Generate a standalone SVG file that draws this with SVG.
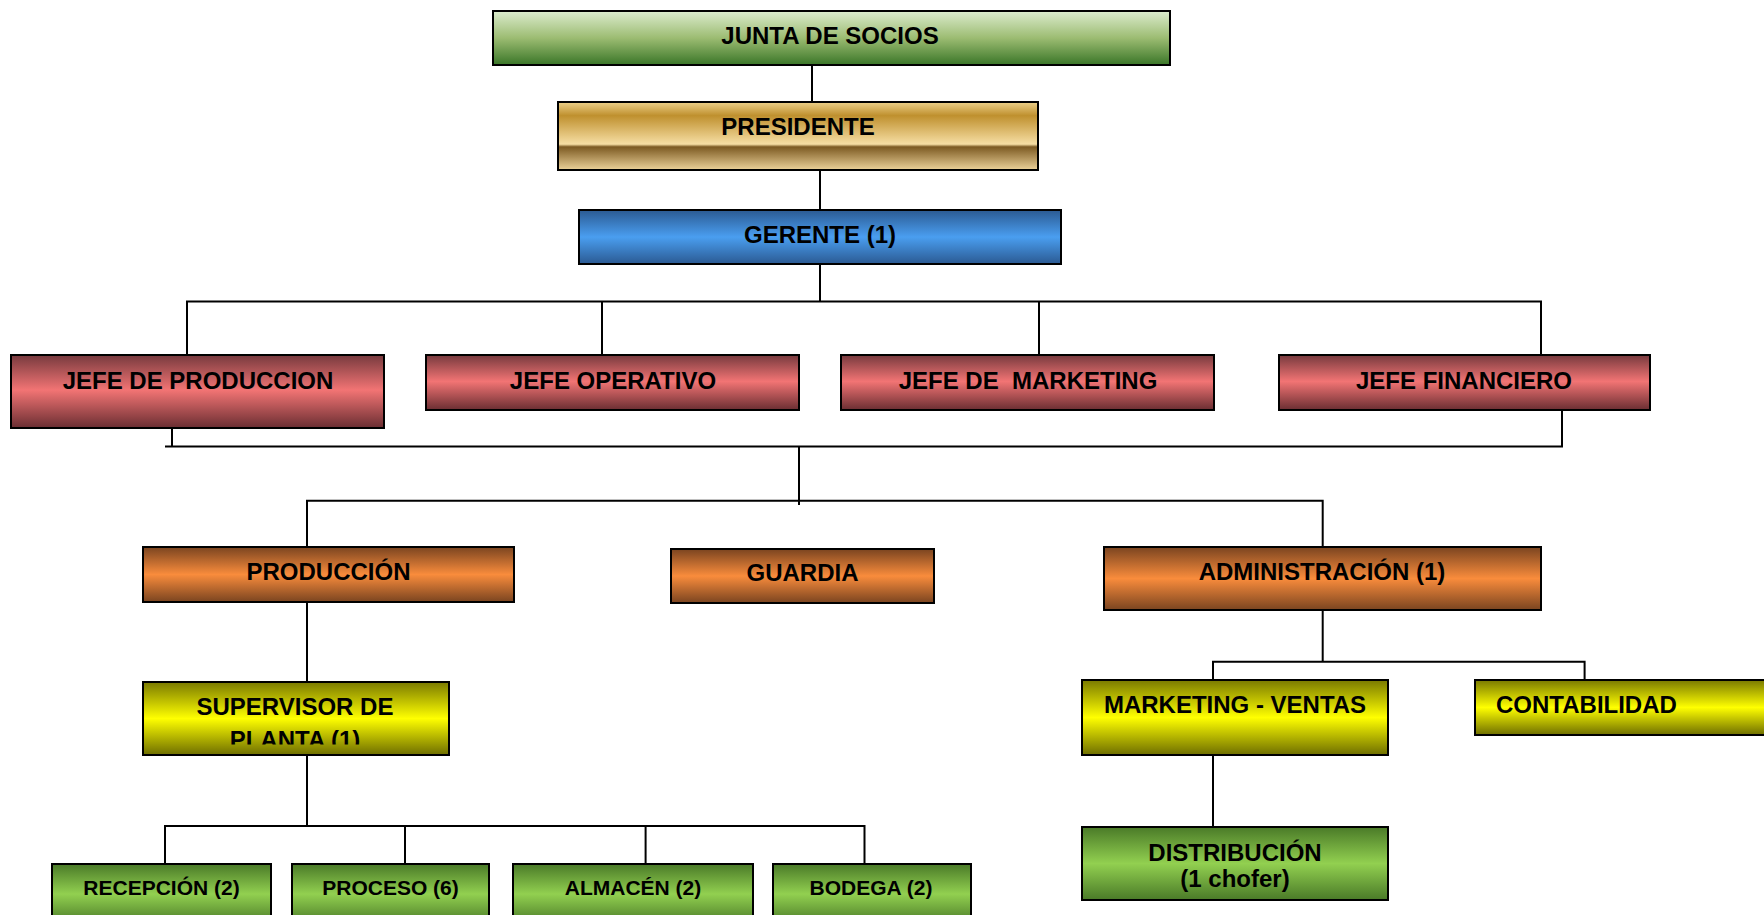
<svg xmlns="http://www.w3.org/2000/svg" width="1764" height="915" viewBox="0 0 1764 915">
<style>
.box{stroke:#000;stroke-width:2}
.t{font-family:"Liberation Sans",Arial,sans-serif;font-weight:bold;font-size:24px;fill:#000;text-anchor:middle}
.s{font-size:21px}
.c{fill:none;stroke:#000;stroke-width:2}
</style>
<defs>
<linearGradient id="gJunta" x1="0" y1="0" x2="0" y2="1">
<stop offset="0" stop-color="#dcecce"/><stop offset="0.5" stop-color="#9cbc72"/><stop offset="1" stop-color="#3a7628"/>
</linearGradient>
<linearGradient id="gPres" x1="0" y1="0" x2="0" y2="1">
<stop offset="0" stop-color="#ecd08a"/><stop offset="0.2" stop-color="#bf902e"/><stop offset="0.62" stop-color="#f6dea4"/><stop offset="0.66" stop-color="#7c5a22"/><stop offset="1" stop-color="#ecd29a"/>
</linearGradient>
<linearGradient id="gBlue" x1="0" y1="0" x2="0" y2="1">
<stop offset="0" stop-color="#2b5a92"/><stop offset="0.5" stop-color="#4a9ef0"/><stop offset="1" stop-color="#2b5a92"/>
</linearGradient>
<linearGradient id="gRed" x1="0" y1="0" x2="0" y2="1">
<stop offset="0" stop-color="#773a3e"/><stop offset="0.48" stop-color="#f27474"/><stop offset="1" stop-color="#6a2e32"/>
</linearGradient>
<linearGradient id="gOrange" x1="0" y1="0" x2="0" y2="1">
<stop offset="0" stop-color="#7a4420"/><stop offset="0.5" stop-color="#f98c3c"/><stop offset="1" stop-color="#7a4420"/>
</linearGradient>
<linearGradient id="gYellow" x1="0" y1="0" x2="0" y2="1">
<stop offset="0" stop-color="#7a7a00"/><stop offset="0.5" stop-color="#ffff00"/><stop offset="1" stop-color="#6e6e00"/>
</linearGradient>
<linearGradient id="gGreen" x1="0" y1="0" x2="0" y2="1">
<stop offset="0" stop-color="#4a7a28"/><stop offset="0.5" stop-color="#92d050"/><stop offset="1" stop-color="#4a7a28"/>
</linearGradient>
<clipPath id="clipSup"><rect x="143" y="682" width="306" height="62.5"/></clipPath>
</defs>
<rect width="1764" height="915" fill="#fff"/>

<g id="connectors">
<path class="c" d="M812 65 V102"/>
<path class="c" d="M820 170 V210"/>
<path class="c" d="M820 264 V301.5"/>
<path class="c" d="M187 355 V301.5 H1541 V355"/>
<path class="c" d="M602 301.5 V355"/>
<path class="c" d="M1039 301.5 V355"/>
<path class="c" d="M172 428 V446.5"/>
<path class="c" d="M165 446.5 H1562 V410"/>
<path class="c" d="M799 446.5 V505"/>
<path class="c" d="M307 547 V500.7 H1322.7 V547"/>
<path class="c" d="M307 602 V682"/>
<path class="c" d="M307 755 V826"/>
<path class="c" d="M165 863 V826 H864.5 V863"/>
<path class="c" d="M405 826 V863"/>
<path class="c" d="M645.6 826 V863"/>
<path class="c" d="M1322.7 610 V662"/>
<path class="c" d="M1213 680 V661.7 H1584.6 V680"/>
<path class="c" d="M1213 755 V827"/>
</g>

<g id="junta"><rect class="box" x="493" y="11" width="677" height="54" fill="url(#gJunta)"/><text class="t" x="830" y="44">JUNTA DE SOCIOS</text></g>
<g id="presidente"><rect class="box" x="558" y="102" width="480" height="68" fill="url(#gPres)"/><text class="t" x="798" y="135">PRESIDENTE</text></g>
<g id="gerente"><rect class="box" x="579" y="210" width="482" height="54" fill="url(#gBlue)"/><text class="t" x="820" y="243">GERENTE (1)</text></g>

<g id="jefe-produccion"><rect class="box" x="11" y="355" width="373" height="73" fill="url(#gRed)"/><text class="t" x="198" y="389">JEFE DE PRODUCCION</text></g>
<g id="jefe-operativo"><rect class="box" x="426" y="355" width="373" height="55" fill="url(#gRed)"/><text class="t" x="613" y="389">JEFE OPERATIVO</text></g>
<g id="jefe-marketing"><rect class="box" x="841" y="355" width="373" height="55" fill="url(#gRed)"/><text class="t" x="1028" y="389" xml:space="preserve">JEFE DE  MARKETING</text></g>
<g id="jefe-financiero"><rect class="box" x="1279" y="355" width="371" height="55" fill="url(#gRed)"/><text class="t" x="1464" y="389">JEFE FINANCIERO</text></g>

<g id="produccion"><rect class="box" x="143" y="547" width="371" height="55" fill="url(#gOrange)"/><text class="t" x="328.5" y="580">PRODUCCIÓN</text></g>
<g id="guardia"><rect class="box" x="671" y="549" width="263" height="54" fill="url(#gOrange)"/><text class="t" x="802.5" y="581">GUARDIA</text></g>
<g id="administracion"><rect class="box" x="1104" y="547" width="437" height="63" fill="url(#gOrange)"/><text class="t" x="1322" y="580">ADMINISTRACIÓN (1)</text></g>

<g id="supervisor"><rect class="box" x="143" y="682" width="306" height="73" fill="url(#gYellow)"/><g clip-path="url(#clipSup)"><text class="t" x="295" y="715">SUPERVISOR DE</text><text class="t" x="295" y="748">PLANTA (1)</text></g></g>
<g id="marketing-ventas"><rect class="box" x="1082" y="680" width="306" height="75" fill="url(#gYellow)"/><text class="t" x="1235" y="713">MARKETING - VENTAS</text></g>
<g id="contabilidad"><rect class="box" x="1475" y="680" width="300" height="55" fill="url(#gYellow)"/><text class="t" x="1496" y="713" text-anchor="start" style="text-anchor:start">CONTABILIDAD</text></g>
<g id="distribucion"><rect class="box" x="1082" y="827" width="306" height="73" fill="url(#gGreen)"/><text class="t" x="1235" y="861">DISTRIBUCIÓN</text><text class="t" x="1235" y="887">(1 chofer)</text></g>

<g id="recepcion"><rect class="box" x="52" y="864" width="219" height="60" fill="url(#gGreen)"/><text class="t s" x="161.5" y="895">RECEPCIÓN (2)</text></g>
<g id="proceso"><rect class="box" x="292" y="864" width="197" height="60" fill="url(#gGreen)"/><text class="t s" x="390.5" y="895">PROCESO (6)</text></g>
<g id="almacen"><rect class="box" x="513" y="864" width="240" height="60" fill="url(#gGreen)"/><text class="t s" x="633" y="895">ALMACÉN (2)</text></g>
<g id="bodega"><rect class="box" x="773" y="864" width="198" height="60" fill="url(#gGreen)"/><text class="t s" x="871" y="895">BODEGA (2)</text></g>
</svg>
